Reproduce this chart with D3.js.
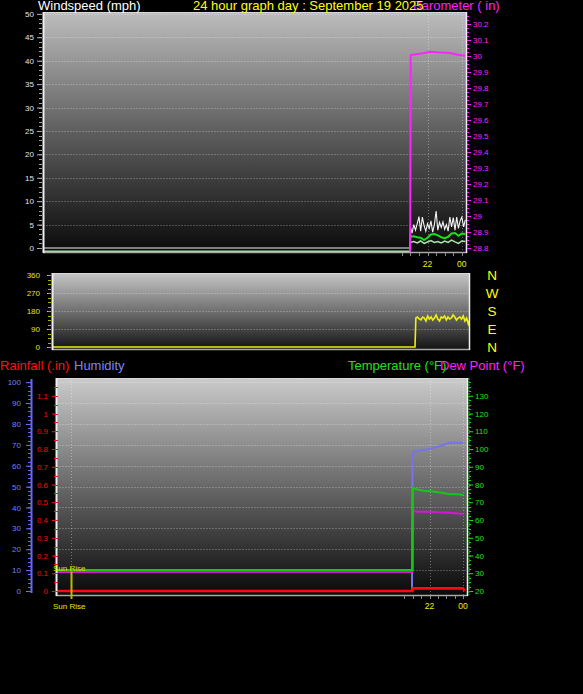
<!DOCTYPE html>
<html><head><meta charset="utf-8">
<script src="https://cdn.jsdelivr.net/npm/d3@7"></script>
<style>html,body{margin:0;padding:0;background:#000;}svg{display:block;}</style>
</head><body>
<svg id="c" width="583" height="694"></svg>
<script>
// ---------------- DATA ----------------
const xDomain = [-0.4, 24.3];            // hours shown on every panel
const xTickHours = [22, 24];
const xTickLabels = ["22", "00"];
const xMinorHours = [20.5, 21, 21.5, 22, 22.5, 23, 23.5, 24];
const sunRiseHour = 0.55;

const windTicks = [0, 5, 10, 15, 20, 25, 30, 35, 40, 45, 50];
const baroTicks = [28.8, 28.9, 29.0, 29.1, 29.2, 29.3, 29.4, 29.5, 29.6, 29.7, 29.8, 29.9, 30.0, 30.1, 30.2];
const baroTickLabels = ["28.8", "28.9", "29", "29.1", "29.2", "29.3", "29.4", "29.5", "29.6", "29.7", "29.8", "29.9", "30", "30.1", "30.2"];
const dirTicks = [0, 90, 180, 270, 360];
const compassLabels = ["N", "E", "S", "W", "N"];
const humTicks = [0, 10, 20, 30, 40, 50, 60, 70, 80, 90, 100];
const rainTicks = [0, 0.1, 0.2, 0.3, 0.4, 0.5, 0.6, 0.7, 0.8, 0.9, 1.0, 1.1];
const rainTickLabels = ["0", "0.1", "0.2", "0.3", "0.4", "0.5", "0.6", "0.7", "0.8", "0.9", "1", "1.1"];
const tempTicks = [20, 30, 40, 50, 60, 70, 80, 90, 100, 110, 120, 130];

// wind gust (mph)
const gustTimes = [-0.4, 20.98, 21.0, 21.1, 21.2, 21.3, 21.4, 21.5, 21.6, 21.7, 21.8, 21.9, 22.0, 22.1, 22.2, 22.3, 22.4, 22.5, 22.6, 22.7, 22.8, 22.9, 23.0, 23.1, 23.2, 23.3, 23.4, 23.5, 23.6, 23.7, 23.8, 23.9, 24.0, 24.1, 24.2];
const gustValues = [0, 0, 4.5, 3.2, 5.0, 3.8, 5.2, 6.7, 3.6, 6.6, 4.8, 3.6, 5.2, 4.2, 5.8, 3.4, 5.0, 7.9, 3.8, 5.5, 4.4, 5.6, 4.0, 5.0, 3.6, 6.6, 4.5, 6.5, 3.8, 6.6, 4.2, 5.8, 6.6, 4.5, 6.0];
// average wind (mph)
const avgTimes = [21.0, 21.2, 21.4, 21.6, 21.8, 22.0, 22.2, 22.4, 22.6, 22.8, 23.0, 23.2, 23.4, 23.6, 23.8, 24.0, 24.2];
const avgValues = [2.4, 2.5, 2.3, 2.2, 1.7, 2.2, 2.9, 3.0, 2.7, 2.3, 2.1, 2.4, 3.1, 3.2, 2.6, 3.1, 3.0];
// low wind (mph)
const lowTimes = [-0.4, 20.98, 21.0, 21.2, 21.4, 21.6, 21.8, 22.0, 22.2, 22.4, 22.6, 22.8, 23.0, 23.2, 23.4, 23.6, 23.8, 24.0, 24.2];
const lowValues = [-0.7, -0.7, 1.2, 1.4, 1.1, 1.5, 1.0, 1.3, 1.6, 1.2, 1.4, 1.1, 1.5, 1.2, 1.7, 1.3, 1.0, 1.5, 1.4];
// barometer (in)
const baroTimes = [20.99, 21.02, 21.73, 22.14, 22.6, 23.3, 23.77, 24.18];
const baroValues = [28.7, 30.006, 30.017, 30.027, 30.023, 30.019, 30.008, 30.002];
// wind direction (deg)
const dirTimes = [-0.4, 21.05, 21.1, 21.2, 21.3, 21.4, 21.5, 21.6, 21.7, 21.8, 21.9, 22.0, 22.1, 22.2, 22.3, 22.4, 22.5, 22.6, 22.7, 22.8, 22.9, 23.0, 23.1, 23.2, 23.3, 23.4, 23.5, 23.6, 23.7, 23.8, 23.9, 24.0, 24.1, 24.2, 24.3];
const dirValues = [0, 0, 145, 150, 140, 135, 150, 145, 130, 155, 140, 150, 135, 145, 160, 140, 130, 150, 145, 155, 135, 150, 140, 145, 160, 150, 135, 145, 150, 140, 155, 130, 145, 115, 140];
// temperature (F)
const tempTimes = [-0.4, 20.98, 21.0, 21.23, 21.63, 22.23, 22.82, 23.12, 23.72, 24.02];
const tempValues = [31.8, 31.8, 77.9, 77.3, 76.5, 76.0, 75.2, 74.6, 74.5, 74.1];
// dew point (F)
const dewTimes = [-0.4, 20.98, 21.03, 21.33, 21.83, 22.52, 23.22, 24.02];
const dewValues = [30.7, 30.7, 65.1, 64.7, 64.7, 64.3, 64.1, 63.4];
// humidity (%)
const humTimes = [-0.4, 20.95, 20.98, 21.03, 21.33, 21.53, 21.93, 22.23, 22.52, 22.92, 23.22, 24.02];
const humValues = [0, 0, 64.3, 66.7, 67.2, 67.5, 67.9, 68.6, 69.1, 70.3, 71.0, 71.0];
// rainfall (in)
const rainTimes = [-0.4, 20.98, 21.0, 24.0, 24.1];
const rainValues = [0, 0, 0.015, 0.015, 0];

// ---------------- DRAWING ----------------
const FONT = "'Liberation Sans', Arial, sans-serif";
const svg = d3.select("#c");
const defs = svg.append("defs");

function gradient(id, stops) {
  const g = defs.append("linearGradient").attr("id", id).attr("x1", 0).attr("y1", 0).attr("x2", 0).attr("y2", 1);
  stops.forEach(s => g.append("stop").attr("offset", s[0]).attr("stop-color", s[1]));
}
gradient("gTop", [[0, "#bdbdbd"], [0.5, "#5e5e5e"], [1, "#0a0a0a"]]);
gradient("gMid", [[0, "#c6c6c6"], [0.5, "#707070"], [1, "#141414"]]);
gradient("gBot", [[0, "#cbcbcb"], [0.5, "#686868"], [1, "#090909"]]);

const P1 = {x0: 43, x1: 467, y0: 12, y1: 252};
const P2 = {x0: 52, x1: 470, y0: 273, y1: 349};
const P3 = {x0: 56, x1: 468, y0: 378, y1: 595};

function drawPanel(P, gid, clipId) {
  svg.append("rect").attr("x", P.x0).attr("y", P.y0).attr("width", P.x1 - P.x0).attr("height", P.y1 - P.y0)
    .attr("fill", `url(#${gid})`);
  defs.append("clipPath").attr("id", clipId).append("rect")
    .attr("x", P.x0).attr("y", P.y0 - 1).attr("width", P.x1 - P.x0).attr("height", P.y1 - P.y0 + 1);
}
function frame(P) {
  svg.append("line").attr("x1", P.x0).attr("x2", P.x1).attr("y1", P.y0 + 0.5).attr("y2", P.y0 + 0.5).attr("stroke", "#d8d8d8");
  svg.append("line").attr("x1", P.x0).attr("x2", P.x1).attr("y1", P.y1 + 0.5).attr("y2", P.y1 + 0.5).attr("stroke", "#a8a8a8").attr("stroke-width", 1.5);
  svg.append("line").attr("x1", P.x0 + 0.5).attr("x2", P.x0 + 0.5).attr("y1", P.y0).attr("y2", P.y1 + 1).attr("stroke", "#eeeeee").attr("stroke-width", 2);
  svg.append("line").attr("x1", P.x1 - 0.5).attr("x2", P.x1 - 0.5).attr("y1", P.y0).attr("y2", P.y1 + 1).attr("stroke", "#f0f0f0").attr("stroke-width", 1.5);
}
function styleAxis(g, color, size) {
  g.select(".domain").remove();
  g.selectAll(".tick line").attr("stroke", color);
  g.selectAll(".tick text").attr("fill", color).style("font-size", size || "8px").style("font-family", FONT);
}
function minorTicks(scale, values, x, len, color, dir) {
  svg.append("g").selectAll("line").data(values).join("line")
    .attr("x1", x).attr("x2", x + dir * len)
    .attr("y1", d => Math.round(scale(d)) + 0.5).attr("y2", d => Math.round(scale(d)) + 0.5)
    .attr("stroke", color);
}
function hGrid(P, scale, values, clipId) {
  svg.append("g").attr("clip-path", `url(#${clipId})`).selectAll("line").data(values).join("line")
    .attr("x1", P.x0).attr("x2", P.x1)
    .attr("y1", d => Math.round(scale(d)) + 0.5).attr("y2", d => Math.round(scale(d)) + 0.5)
    .attr("stroke", "rgba(255,255,255,0.22)").attr("stroke-dasharray", "2,1");
}
function vGrid(P, xs, values) {
  svg.append("g").selectAll("line").data(values).join("line")
    .attr("x1", d => Math.round(xs(d)) + 0.5).attr("x2", d => Math.round(xs(d)) + 0.5)
    .attr("y1", P.y0).attr("y2", P.y1)
    .attr("stroke", "rgba(255,255,255,0.35)").attr("stroke-dasharray", "1,2");
}
function series(times, values, xs, ys, color, width, clipId) {
  const pts = times.map((t, i) => [t, values[i]]);
  svg.append("path").datum(pts).attr("clip-path", `url(#${clipId})`)
    .attr("fill", "none").attr("stroke", color).attr("stroke-width", width).attr("stroke-linejoin", "miter")
    .attr("d", d3.line().x(d => xs(d[0])).y(d => ys(d[1])));
}
function xLabels(xs, y) {
  svg.append("g").selectAll("text").data(xTickHours).join("text")
    .attr("x", d => xs(d)).attr("y", y).attr("text-anchor", "middle")
    .attr("fill", "#f0f000").style("font-family", FONT).style("font-size", "8.5px")
    .text((d, i) => xTickLabels[i]);
}
function xMinor(P, xs) {
  svg.append("g").selectAll("line").data(xMinorHours).join("line")
    .attr("x1", d => Math.round(xs(d)) + 0.5).attr("x2", d => Math.round(xs(d)) + 0.5)
    .attr("y1", P.y1 + 1).attr("y2", P.y1 + 4).attr("stroke", "#8a8a8a");
}

// ===== Panel 1 : wind speed + barometer =====
const x1s = d3.scaleLinear().domain(xDomain).range([P1.x0, P1.x1]);
const yWind = d3.scaleLinear().domain([-0.85, 50.4]).range([P1.y1, P1.y0]);
const yBaro = d3.scaleLinear().domain([28.775, 30.275]).range([P1.y1, P1.y0]).clamp(true);
drawPanel(P1, "gTop", "c1");
hGrid(P1, yWind, windTicks.slice(1), "c1");
vGrid(P1, x1s, xTickHours);
series(gustTimes, gustValues, x1s, yWind, "#f4f4f4", 1.1, "c1");
series(lowTimes, lowValues, x1s, yWind, "#a6e6a6", 1.5, "c1");
series(avgTimes, avgValues, x1s, yWind, "#18e018", 2, "c1");
series(baroTimes, baroValues, x1s, yBaro, "#ff22ff", 2, "c1");
frame(P1);
xMinor(P1, x1s);

const gW = svg.append("g").attr("transform", `translate(${P1.x0 - 1},0)`)
  .call(d3.axisLeft(yWind).tickValues(windTicks).tickSize(5).tickPadding(3).tickFormat(d3.format("d")));
styleAxis(gW, "#e4e4f0");
gW.selectAll(".tick line").attr("stroke", "#b8b8b8");
minorTicks(yWind, d3.range(0, 51, 1), P1.x0 - 1, 3, "#a0a0a0", -1);

const gB = svg.append("g").attr("transform", `translate(${P1.x1},0)`)
  .call(d3.axisRight(yBaro).tickValues(baroTicks).tickSize(4).tickPadding(2).tickFormat((d, i) => baroTickLabels[i]));
styleAxis(gB, "#ff22ff");
minorTicks(yBaro, d3.range(28.8, 30.27, 0.025), P1.x1, 2, "#ff22ff", 1);
xLabels(x1s, 267);

// titles
svg.append("text").attr("x", 38).attr("y", 10).attr("fill", "#ffffff").style("font-family", FONT).style("font-size", "13px").text("Windspeed (mph)");
svg.append("text").attr("x", 413).attr("y", 10).attr("fill", "#ff22ff").style("font-family", FONT).style("font-size", "13px").text("Barometer ( in)");
svg.append("text").attr("x", 193).attr("y", 10).attr("fill", "#ffff00").style("font-family", FONT).style("font-size", "13px").text("24 hour graph day : September 19 2025");

// ===== Panel 2 : wind direction =====
const x2s = d3.scaleLinear().domain(xDomain).range([P2.x0, P2.x1]);
const yDir = d3.scaleLinear().domain([-10, 370]).range([P2.y1, P2.y0]);
drawPanel(P2, "gMid", "c2");
hGrid(P2, yDir, [90, 180, 270], "c2");
series(dirTimes, dirValues, x2s, yDir, "#eeee10", 1.6, "c2");
frame(P2);
const gD = svg.append("g").attr("transform", `translate(${P2.x0 - 1},0)`)
  .call(d3.axisLeft(yDir).tickValues(dirTicks).tickSize(4).tickPadding(7));
styleAxis(gD, "#e6e600");
minorTicks(yDir, d3.range(0, 361, 22.5), P2.x0 - 1, 3, "#b0b000", -1);
svg.append("g").selectAll("text").data(dirTicks).join("text")
  .attr("x", 492).attr("y", d => yDir(d) + 5).attr("text-anchor", "middle")
  .attr("fill", "#ffff00").style("font-family", FONT).style("font-size", "13.5px")
  .text((d, i) => compassLabels[i]);

// ===== Panel 3 : rain, humidity, temperature, dew point =====
const x3s = d3.scaleLinear().domain(xDomain).range([P3.x0 - 1, P3.x1]);
const yTemp = d3.scaleLinear().domain([17.75, 140]).range([P3.y1, P3.y0]);
const yRain = d3.scaleLinear().domain([-0.0225, 1.2]).range([P3.y1, P3.y0]);
const yHum = d3.scaleLinear().domain([-1.9, 102]).range([P3.y1, P3.y0]);
drawPanel(P3, "gBot", "c3");
hGrid(P3, yHum, humTicks.slice(1), "c3");
vGrid(P3, x3s, [sunRiseHour].concat(xTickHours));
series(humTimes, humValues, x3s, yHum, "#7474ec", 2, "c3");
series(dewTimes, dewValues, x3s, yTemp, "#d616d6", 2, "c3");
series(tempTimes, tempValues, x3s, yTemp, "#16c816", 2, "c3");
series(rainTimes, rainValues, x3s, yRain, "#ff0a0a", 2.6, "c3");
frame(P3);
xMinor(P3, x3s);

// sunrise marker
svg.append("line").attr("x1", Math.round(x3s(sunRiseHour)) + 0.5).attr("x2", Math.round(x3s(sunRiseHour)) + 0.5)
  .attr("y1", yRain(0.11)).attr("y2", P3.y1 + 4).attr("stroke", "#b8b800").attr("stroke-width", 2);
svg.append("text").attr("x", 53).attr("y", yRain(0.11)).attr("fill", "#d8e000").style("font-family", FONT).style("font-size", "8px").text("Sun Rise");
svg.append("text").attr("x", 53).attr("y", 609).attr("fill", "#e8e800").style("font-family", FONT).style("font-size", "8px").text("Sun Rise");

// humidity axis
svg.append("line").attr("x1", 31.5).attr("x2", 31.5).attr("y1", P3.y0 + 1).attr("y2", P3.y1 - 2).attr("stroke", "#6868f0").attr("stroke-width", 2);
const gH = svg.append("g").attr("transform", "translate(31,0)")
  .call(d3.axisLeft(yHum).tickValues(humTicks).tickSize(5).tickPadding(5));
styleAxis(gH, "#7080ff");
minorTicks(yHum, d3.range(0, 101, 2), 31, 3, "#6868f0", -1);

// rain axis
const gR = svg.append("g").attr("transform", `translate(${P3.x0},0)`)
  .call(d3.axisLeft(yRain).tickValues(rainTicks).tickSize(4).tickPadding(4).tickFormat((d, i) => rainTickLabels[i]));
styleAxis(gR, "#f01010");
minorTicks(yRain, d3.range(0, 1.19, 0.05), P3.x0 + 2, 4, "#e02020", -1);

// temperature axis
svg.append("line").attr("x1", P3.x1 + 1).attr("x2", P3.x1 + 1).attr("y1", P3.y0).attr("y2", P3.y1).attr("stroke", "#10c810").attr("stroke-dasharray", "2,1");
const gT = svg.append("g").attr("transform", `translate(${P3.x1 + 1},0)`)
  .call(d3.axisRight(yTemp).tickValues(tempTicks).tickSize(4).tickPadding(2));
styleAxis(gT, "#20e020");
minorTicks(yTemp, d3.range(20, 140, 2.5), P3.x1 + 1, 2, "#10c810", 1);
xLabels(x3s, 609);

// legends
const legend = [
  {x: 0, t: "Rainfall (.in)", c: "#ff1010"},
  {x: 74, t: "Humidity", c: "#8080ff"},
  {x: 348, t: "Temperature (°F)", c: "#20e020"},
  {x: 440, t: "Dew Point (°F)", c: "#ff22ff"}
];
svg.append("g").selectAll("text").data(legend).join("text")
  .attr("x", d => d.x).attr("y", 370).attr("fill", d => d.c)
  .style("font-family", FONT).style("font-size", "13px").text(d => d.t);
</script>
</body></html>
